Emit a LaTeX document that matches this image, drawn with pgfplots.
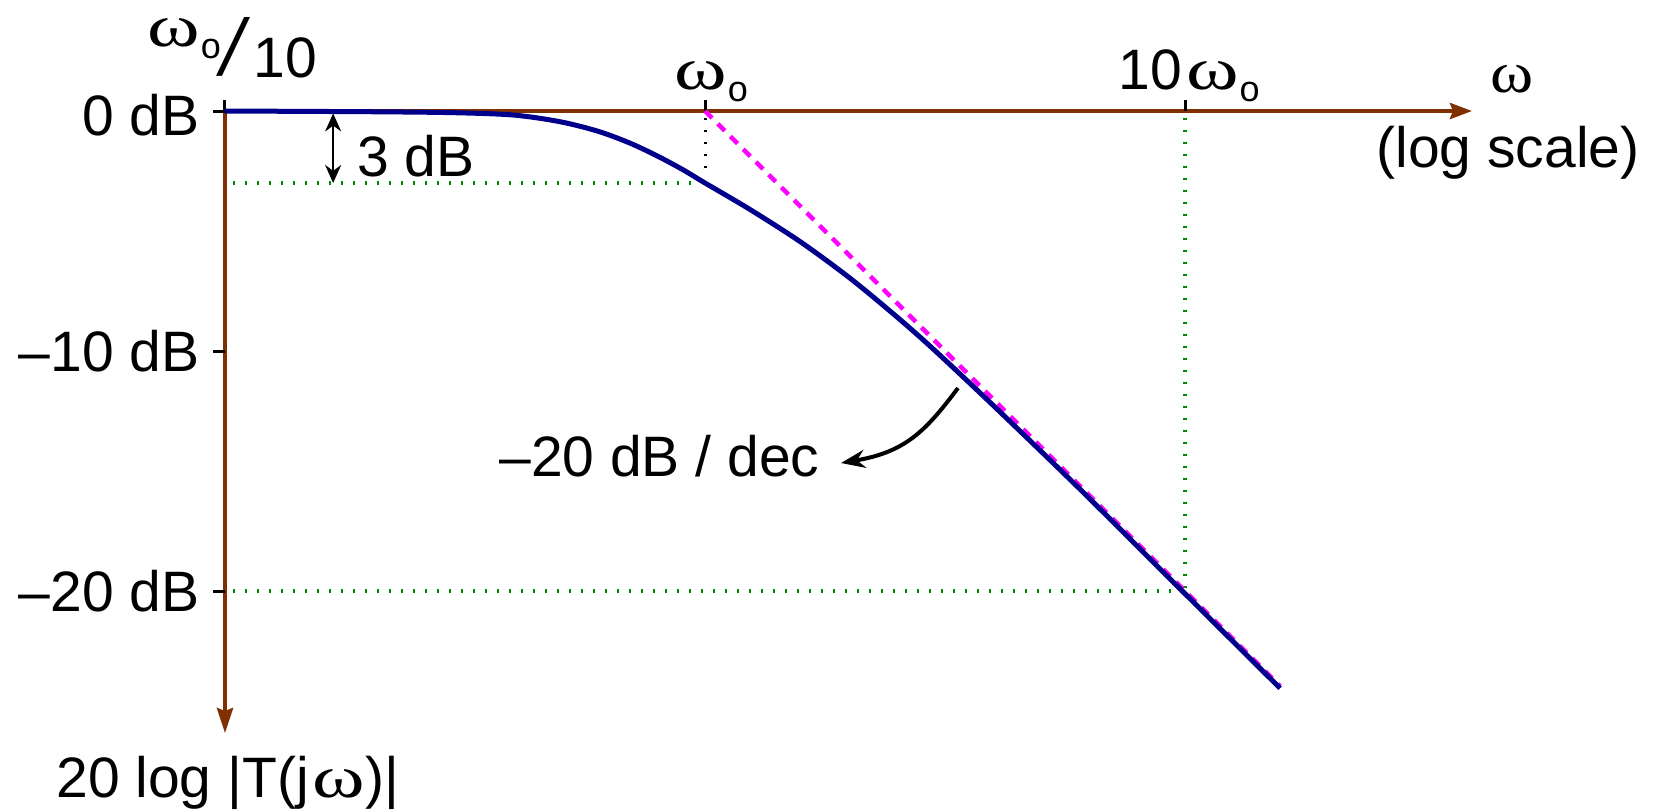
\documentclass[border=0pt]{standalone}
\usepackage{fontspec}
\setmainfont{Liberation Sans}
\newfontfamily\grk{Liberation Serif}
\usepackage{pgfplots}
\pgfplotsset{compat=1.18}
\usetikzlibrary{arrows.meta}

\definecolor{axisbrown}{RGB}{128,48,0}
\definecolor{curveblue}{RGB}{0,0,140}
\definecolor{asymmag}{RGB}{255,0,255}
\definecolor{dotgreen}{RGB}{0,140,0}

% wide upright omega, and omega with a subscript o
\newcommand\om{\scalebox{1.4}[1.05]{\grk ω}}
\newcommand\wo{\om\kern0.5pt\raisebox{-6pt}{\fontsize{18}{18}\selectfont o}}

\tikzset{
  lbl/.style={font=\fontsize{28.5}{34}\selectfont, inner sep=0pt},
  gdot/.style={dotgreen, line width=2pt, dash pattern=on 1pt off 5pt},
  tck/.style={black, line width=1.5pt},
}

\begin{document}
\begin{tikzpicture}
\begin{axis}[
  at={(112.5pt,-366.5pt)}, anchor=south west,
  scale only axis, width=623.5pt, height=311pt,
  xmode=log, xmin=0.1, xmax=39.6, ymin=-25.917, ymax=0,
  hide axis, clip=false,
]
% axes
\draw[axisbrown, line width=2pt, -{Stealth[length=11pt,width=8pt,inset=1.5pt]}]
  (axis cs:0.1,0) -- (axis cs:39.6,0);
\draw[axisbrown, line width=2pt, -{Stealth[length=12.5pt,width=8pt,inset=1.5pt]}]
  (axis cs:0.1,0) -- (axis cs:0.1,-25.917);
% ticks
\draw[tck] (axis cs:0.1,0)   -- ([xshift=-6pt]axis cs:0.1,0);
\draw[tck] (axis cs:0.1,-10) -- ([xshift=-6pt]axis cs:0.1,-10);
\draw[tck] (axis cs:0.1,-20) -- ([xshift=-6pt]axis cs:0.1,-20);
\draw[tck] (axis cs:0.1,0) -- ([yshift=5.5pt]axis cs:0.1,0);
\draw[tck] (axis cs:1,0)   -- ([yshift=5.5pt]axis cs:1,0);
\draw[tck] (axis cs:10,0)  -- ([yshift=5.5pt]axis cs:10,0);
% tick labels
\node[lbl, anchor=east, xshift=-12.5pt, yshift=-2pt] at (axis cs:0.1,0) {0 dB};
\node[lbl, anchor=east, xshift=-12.5pt] at (axis cs:0.1,-10) {–10 dB};
\node[lbl, anchor=east, xshift=-12.5pt] at (axis cs:0.1,-20) {–20 dB};
\node[lbl, anchor=base, xshift=3pt, yshift=11pt] at (axis cs:1,0) {\wo};
\node[lbl, anchor=base, xshift=2pt, yshift=11pt] at (axis cs:10,0) {10\kern2pt\wo};
% guide lines
\draw[gdot] (axis cs:0.104,-3) -- (axis cs:0.97,-3);
\draw[gdot] (axis cs:0.104,-20) -- (axis cs:10,-20);
\draw[gdot] (axis cs:10,-0.3) -- (axis cs:10,-20);
\draw[black, line width=1.5pt, dash pattern=on 1pt off 5pt] (axis cs:1,-0.3) -- (axis cs:1,-2.8);
% 3 dB marker
\draw[black, line width=1.3pt, {Stealth[length=9pt,width=8pt]}-{Stealth[length=9pt,width=8pt]}]
  (axis cs:0.168,-0.1) -- (axis cs:0.168,-3);
% asymptote, -20 dB/decade from the corner frequency
\addplot[asymmag, line width=2.2pt, dash pattern=on 5pt off 4pt] coordinates {
  (1,0) (15.77,-23.96)
};
% magnitude response
\addplot[curveblue, line width=2.5pt, smooth] coordinates {
  (0.1,0) (0.2,-0.03) (0.3,-0.07) (0.4,-0.17) (0.5,-0.45) (0.6,-0.85)
  (0.7,-1.35) (0.8,-1.9) (0.9,-2.45) (1.0,-3.0) (1.24,-4.1) (1.58,-5.45)
  (2.0,-6.95) (2.5,-8.55) (3.0,-9.95) (4.0,-12.3) (6.0,-15.7) (9.44,-19.62)
  (15.77,-24.05)
};
\end{axis}

\begin{scope}[x=0.5pt, y=-0.5pt]
  % frequency range start: omega_o / 10
  \node[lbl, anchor=base west] at (147,46) {\wo};
  \node[lbl, anchor=base] at (233,75) {\resizebox{17pt}{29pt}{\grk /}};
  \node[lbl, anchor=base west] at (253,77) {10};
  % axis names
  \node[lbl, anchor=base] at (1512,92) {\scalebox{1.15}[1.02]{\grk ω}};
  \node[lbl, anchor=base] at (1508,167) {(log scale)};
  \node[lbl, anchor=base west] at (56,797) {20 log |T(j\kern2pt\om)|};
  % annotations
  \node[lbl, anchor=base west] at (357,176) {3 dB};
  \node[lbl, anchor=base west] at (499,476) {–20 dB / dec};
  \draw[black, line width=2pt, -{Stealth[length=12pt,width=9pt]}]
    (958,388) .. controls (925,432) and (905,452) .. (841,463);
\end{scope}

\pgfresetboundingbox
\path[use as bounding box] (0,0) rectangle (827.5pt,-405.5pt);
\end{tikzpicture}
\end{document}
